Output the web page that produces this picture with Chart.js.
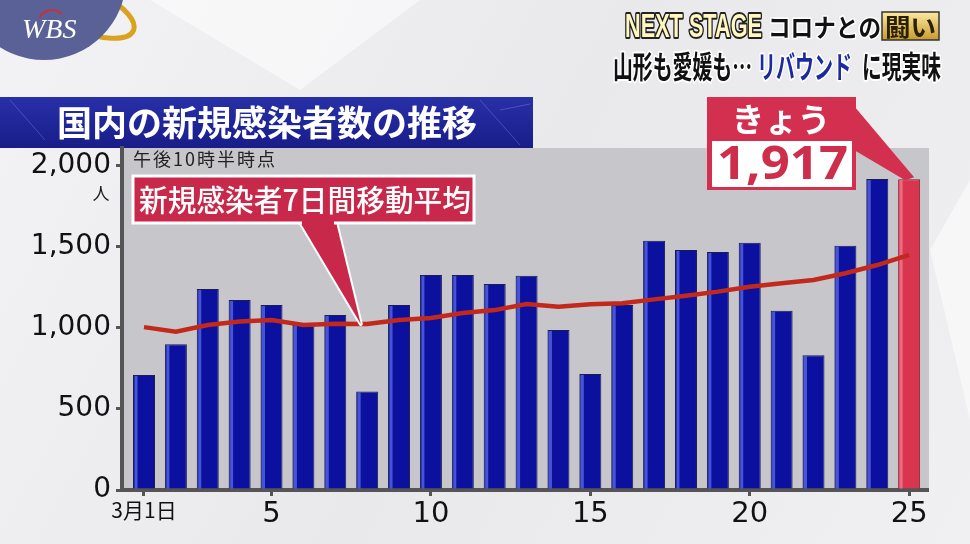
<!DOCTYPE html>
<html>
<head>
<meta charset="utf-8">
<script src="https://cdn.jsdelivr.net/npm/chart.js@4.4.1/dist/chart.umd.min.js"></script>
<style>
  html, body { margin: 0; padding: 0; background: #ececef; }
  #wrap { width: 970px; height: 544px; }
</style>
</head>
<body>
<div id="wrap"><canvas id="chart" width="970" height="544"></canvas></div>
<script>
// 3月の日付
const days = [1, 2, 3, 4, 5, 6, 7, 8, 9, 10, 11, 12, 13, 14, 15, 16, 17, 18, 19, 20, 21, 22, 23, 24, 25]
// 新規感染者数
const cases = [710, 899, 1240, 1172, 1141, 1018, 1080, 607, 1141, 1327, 1327, 1271, 1322, 987, 716, 1141, 1538, 1481, 1468, 1526, 1106, 831, 1507, 1918, 1917]
// 7日間移動平均
const avg7 = [1005, 977, 1018, 1039, 1049, 1018, 1025, 1024, 1049, 1061, 1092, 1110, 1148, 1131, 1146, 1152, 1176, 1199, 1224, 1254, 1275, 1296, 1337, 1388, 1450]

const xTicks = [1, 5, 10, 15, 20, 25]
const xLabels = ['3月1日', '5', '10', '15', '20', '25']
const yTicks = [0, 500, 1000, 1500, 2000]

const JP = '"Noto Sans CJK JP", "Noto Sans", sans-serif'
const NUM = '"DejaVu Sans", sans-serif'

function fitText(ctx, txt, x, y, w, font, fill, stroke, strokeW) {
  ctx.save()
  ctx.font = font
  ctx.textBaseline = 'alphabetic'
  ctx.textAlign = 'left'
  const m = ctx.measureText(txt).width
  ctx.translate(x, y)
  ctx.scale(w / m, 1)
  if (stroke) {
    ctx.lineJoin = 'round'
    ctx.lineWidth = strokeW
    ctx.strokeStyle = stroke
    ctx.strokeText(txt, 0, 0)
  }
  ctx.fillStyle = fill
  ctx.fillText(txt, 0, 0)
  ctx.restore()
}

const decor = {
  id: 'decor',
  beforeDraw(chart) {
    const ctx = chart.ctx
    const a = chart.chartArea
    ctx.save()

    // icy background
    let g = ctx.createLinearGradient(0, 0, 970, 544)
    g.addColorStop(0, '#f3f3f5')
    g.addColorStop(0.5, '#e9e9ec')
    g.addColorStop(1, '#f0f0f2')
    ctx.fillStyle = g
    ctx.fillRect(0, 0, 970, 544)
    ctx.fillStyle = 'rgba(255,255,255,0.5)'
    ctx.beginPath(); ctx.moveTo(150, 0); ctx.lineTo(420, 0); ctx.lineTo(300, 90); ctx.closePath(); ctx.fill()
    ctx.beginPath(); ctx.moveTo(930, 250); ctx.lineTo(970, 180); ctx.lineTo(970, 420); ctx.closePath(); ctx.fill()

    // logo
    ctx.beginPath()
    ctx.ellipse(80, 8, 58, 22, 0.4, 0, Math.PI * 2)
    ctx.strokeStyle = '#d9a21f'
    ctx.lineWidth = 5
    ctx.stroke()
    ctx.beginPath()
    ctx.arc(44, -22, 82, 0, Math.PI * 2)
    ctx.fillStyle = '#5a6196'
    ctx.fill()
    ctx.font = 'italic 28px "Liberation Serif", serif'
    ctx.fillStyle = '#ffffff'
    ctx.fillText('WBS', 22, 38)
    ctx.beginPath()
    ctx.arc(52, 24, 14, Math.PI * 1.15, Math.PI * 1.75)
    ctx.strokeStyle = '#c8303a'
    ctx.lineWidth = 2
    ctx.stroke()

    // title band
    g = ctx.createLinearGradient(0, 97, 0, 148)
    g.addColorStop(0, '#2830a8')
    g.addColorStop(1, '#181d88')
    ctx.fillStyle = g
    ctx.fillRect(0, 97, 533, 51)
    ctx.strokeStyle = 'rgba(140,150,255,0.35)'
    ctx.lineWidth = 1
    ctx.beginPath()
    ctx.moveTo(10, 100); ctx.lineTo(45, 140)
    ctx.moveTo(480, 100); ctx.lineTo(520, 145)
    ctx.moveTo(500, 110); ctx.lineTo(530, 104)
    ctx.stroke()
    ctx.font = 'bold 35px ' + JP
    ctx.fillStyle = '#ffffff'
    ctx.textBaseline = 'middle'
    ctx.fillText('国内の新規感染者数の推移', 57, 123)

    // top-right caption
    g = ctx.createLinearGradient(0, 12, 0, 38)
    g.addColorStop(0, '#fff6c0')
    g.addColorStop(0.5, '#f0c850')
    g.addColorStop(1, '#b8861a')
    fitText(ctx, 'NEXT STAGE', 625, 37, 137, 'bold 34px "Liberation Sans Narrow", "Liberation Sans", sans-serif', g, '#222', 4)
    fitText(ctx, 'コロナとの', 768, 37, 113, 'bold 25px ' + JP, '#111', '#fff', 3)
    const gb = ctx.createLinearGradient(0, 12, 0, 40)
    gb.addColorStop(0, '#fbe9a0')
    gb.addColorStop(1, '#c99a2c')
    ctx.fillStyle = gb
    ctx.fillRect(882, 12, 57, 28)
    ctx.strokeStyle = '#333'
    ctx.lineWidth = 1.5
    ctx.strokeRect(882, 12, 57, 28)
    fitText(ctx, '闘い', 885, 36, 51, 'bold 24px ' + JP, '#2a2000')
    fitText(ctx, '山形も愛媛も…', 613, 78, 139, 'bold 31px ' + JP, '#111', '#fff', 4)
    fitText(ctx, 'リバウンド', 757, 78, 95, 'bold 31px ' + JP, '#1b2a9c', '#fff', 4)
    fitText(ctx, 'に現実味', 862, 78, 79, 'bold 31px ' + JP, '#111', '#fff', 4)

    // plot area
    ctx.fillStyle = '#c7c7cb'
    ctx.fillRect(a.left, a.top, a.right - a.left + 2, a.bottom - a.top)

    ctx.fillStyle = '#1a1a1a'
    ctx.font = '17px ' + JP
    ctx.textAlign = 'center'
    ctx.textBaseline = 'middle'
    ctx.fillText('人', 101, 194)
    ctx.textAlign = 'left'
    ctx.textBaseline = 'alphabetic'
    ctx.font = '18px ' + JP
    ctx.letterSpacing = '2px'
    ctx.fillStyle = '#222'
    ctx.fillText('午後10時半時点', 133, 166)
    ctx.letterSpacing = '0px'
    ctx.restore()
  },
  afterDatasetDraw(chart, args) {
    if (args.index !== 0) return
    const ctx = chart.ctx
    ctx.save()
    args.meta.data.forEach(function(bar, i) {
      const w = bar.width
      ctx.fillStyle = i === days.length - 1 ? 'rgba(255,150,170,0.55)' : 'rgba(110,130,255,0.6)'
      ctx.fillRect(bar.x - w / 2 + 1.5, bar.y + 1, 3, bar.base - bar.y - 1)
    })
    ctx.restore()
  },
  afterDraw(chart) {
    const ctx = chart.ctx
    const xs = chart.scales.x
    const ys = chart.scales.y
    ctx.save()

    // moving-average callout
    const tipX = xs.getPixelForValue(7.8)
    const tipY = ys.getPixelForValue(avg7[7])
    ctx.beginPath()
    ctx.moveTo(300, 222); ctx.lineTo(tipX, tipY); ctx.lineTo(336, 222)
    ctx.closePath()
    ctx.lineJoin = 'round'
    ctx.strokeStyle = '#ffffff'
    ctx.lineWidth = 4
    ctx.stroke()
    ctx.fillStyle = '#c8294a'
    ctx.fill()
    ctx.fillRect(133, 176, 341, 47)
    ctx.lineJoin = 'miter'
    ctx.lineWidth = 3
    ctx.strokeRect(133, 176, 341, 47)
    ctx.fillStyle = '#c8294a'
    ctx.fillRect(302, 218, 32, 8)
    fitText(ctx, '新規感染者7日間移動平均', 139, 211, 332, '500 30px ' + JP, '#ffffff')

    // today callout
    const last = chart.getDatasetMeta(0).data[days.length - 1]
    ctx.beginPath()
    ctx.moveTo(854, 106)
    ctx.lineTo(last.x + 5, last.y - 2)
    ctx.lineTo(last.x - 4, last.y + 1)
    ctx.lineTo(854, 150)
    ctx.closePath()
    ctx.fillStyle = '#d2304e'
    ctx.fill()
    ctx.fillRect(707, 97, 149, 93)
    ctx.fillStyle = '#ffffff'
    ctx.fillRect(712, 141, 140, 46)
    ctx.font = 'bold 33px ' + JP
    ctx.textAlign = 'center'
    ctx.textBaseline = 'middle'
    ctx.fillText('きょう', 781, 119)
    fitText(ctx, cases[cases.length - 1].toLocaleString('en-US'), 717, 179, 131, 'bold 46px "Noto Sans", sans-serif', '#cf2d4c')
    ctx.restore()
  }
}

const ctxChart = document.getElementById('chart')

const chart = new Chart(ctxChart, {
  type: 'bar',
  data: {
    datasets: [{
      type: 'bar',
      label: '新規感染者数',
      data: days.map((d, i) => ({ x: d, y: cases[i] })),
      backgroundColor: (c) => c.dataIndex === days.length - 1 ? '#d8354f' : '#0b109e',
      borderColor: (c) => c.dataIndex === days.length - 1 ? '#8a1a2a' : '#1c1c50',
      borderWidth: 1,
      barPercentage: 0.69,
      categoryPercentage: 1,
      order: 2
    }, {
      type: 'line',
      label: '7日間移動平均',
      data: days.map((d, i) => ({ x: d, y: avg7[i] })),
      borderColor: '#c2291c',
      borderWidth: 4.5,
      pointRadius: 0,
      tension: 0,
      order: 1
    }]
  },
  options: {
    responsive: false,
    animation: false,
    layout: { padding: { top: 148, right: 43, bottom: 0, left: 0 } },
    plugins: {
      legend: { display: false },
      tooltip: { enabled: false }
    },
    scales: {
      x: {
        type: 'linear',
        offset: false,
        min: 0.31,
        max: 25.56,
        afterBuildTicks: (s) => { s.ticks = xTicks.map(v => ({ value: v })) },
        afterFit: (s) => { s.height = 54 },
        border: { display: true, color: '#555', width: 4 },
        grid: { drawOnChartArea: false, color: '#555', lineWidth: 3, tickLength: 6, offset: false },
        ticks: {
          color: '#111',
          padding: 1,
          maxRotation: 0,
          autoSkip: false,
          font: (c) => c.index === 0 ? { family: JP, size: 21 } : { family: NUM, size: 29 },
          callback: (v, i) => xLabels[i]
        }
      },
      y: {
        min: 0,
        max: 2110,
        afterBuildTicks: (s) => { s.ticks = yTicks.map(v => ({ value: v })) },
        afterFit: (s) => { s.width = 122 },
        border: { display: true, color: '#555', width: 4 },
        grid: { drawOnChartArea: false, color: '#555', lineWidth: 3, tickLength: 6 },
        ticks: {
          color: '#111',
          padding: 5,
          font: { family: NUM, size: 28 },
          callback: (v) => v.toLocaleString('en-US')
        }
      }
    }
  },
  plugins: [decor]
})
</script>
</body>
</html>
